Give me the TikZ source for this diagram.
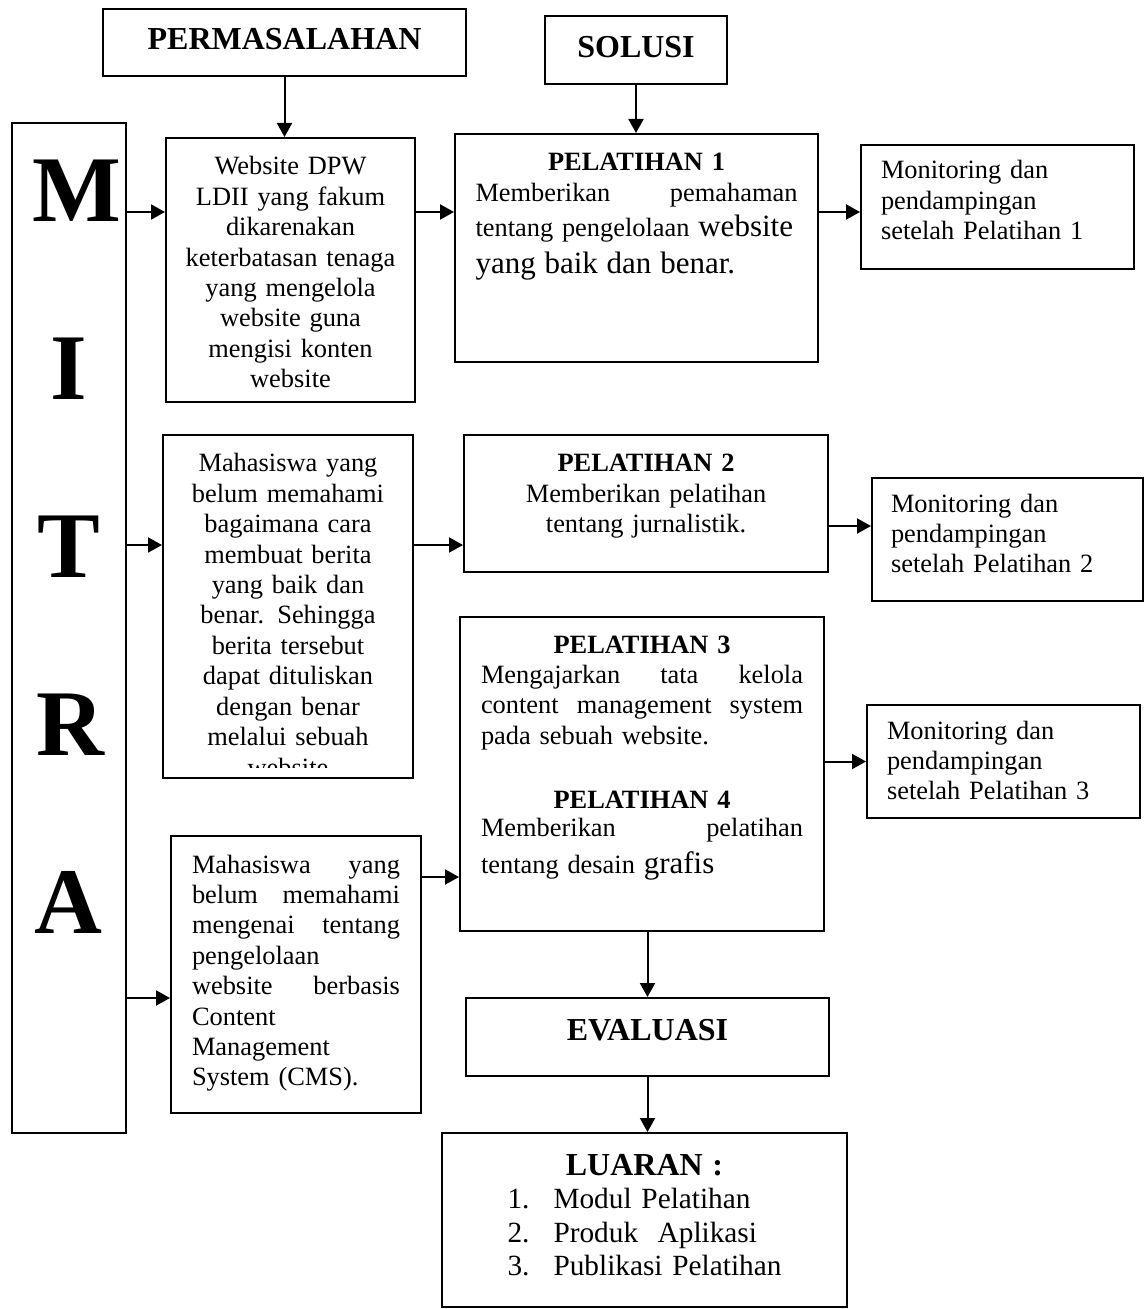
\documentclass[tikz,border=0pt]{standalone}
\usepackage{fontspec}
\setmainfont{Liberation Serif}
\usetikzlibrary{arrows.meta,shapes}

\newcommand{\pelhead}[1]{\makebox[\linewidth]{\bfseries #1}}
\newcommand{\besar}{\fontsize{15.5}{17}\selectfont}

\begin{document}
\begin{tikzpicture}[x=0.5pt, y=-0.5pt, line width=1pt]
      % ukuran gambar dibuat tetap supaya sama dengan aslinya
      \useasboundingbox (0,0) rectangle (1144,1309);
      \tikzstyle{kotak} = [rectangle, draw, inner sep=0pt, font=\fontsize{13.2}{15.2}\selectfont]
      \tikzstyle{judul} = [kotak, font=\fontsize{16}{19}\selectfont\bfseries, text height=10.6pt]
      \tikzstyle{isi} = [kotak, text width=161pt, align=left, text height=9pt]
      \tikzstyle{monitor} = [kotak, minimum width=136.5pt, text width=116.5pt, align=left, text height=9pt]
      \tikzstyle{huruf} = [font=\fontsize{47}{50}\selectfont\bfseries]
      \tikzstyle{line} = [draw, -{Triangle[length=7pt,width=7.5pt]}]
      % baris panah
      \coordinate (baris1) at (0,212);
      \coordinate (baris2) at (0,545);
      \coordinate (baris3) at (0,998);
      \coordinate (baris4) at (0,877);
      \coordinate (baris5) at (0,526);
      \coordinate (potong) at (0,767);
        % kolom mitra
        \node [kotak, minimum width=57pt, minimum height=505pt] (mitra) at (69,628) {};
        \foreach \h/\x [count=\i] in {M/77,I/69,T/69,R/70,A/68}
          \node [huruf] (huruf\i) at (\x, 191+177.75*\i-177.75) {\h};
        % judul atas
        \node [judul, minimum width=181.5pt, minimum height=33.5pt, text depth=3.1pt] (masalah) at (284.5,42.5) {PERMASALAHAN};
        \node [judul, minimum width=91pt, minimum height=34pt, text depth=2.6pt] (solusi) at (636,50) {SOLUSI};
        % permasalahan
        \node [kotak, minimum width=124.5pt, minimum height=132pt, text width=115pt, align=center, text height=9pt, text depth=104pt] (masalah1) at (290.5,270)
          {Website DPW\\ LDII yang fakum\\ dikarenakan\\ keterbatasan tenaga\\ yang mengelola\\ website guna\\ mengisi konten\\ website};
        \node [kotak, minimum width=125pt, minimum height=171.5pt] (masalah2) at (288,606.5) {};
        \begin{scope}
          % baris terakhir terpotong oleh kotak
          \clip (masalah2.north west) rectangle (masalah2.east |- potong);
          \node [kotak, draw=none, text width=120pt, align=center, anchor=base] (teks2) at (288,472)
            {Mahasiswa yang\\ belum memahami\\ bagaimana cara\\ membuat berita\\ yang baik dan\\ benar. Sehingga\\ berita tersebut\\ dapat dituliskan\\ dengan benar\\ melalui sebuah\\ website};
        \end{scope}
        \node [kotak, minimum width=125pt, minimum height=138.5pt, text width=104pt, align=left, text height=9pt, text depth=110.5pt] (masalah3) at (296,974.5)
          {Mahasiswa\hfill yang\\ belum\hfill memahami\\ mengenai\hfill tentang\\ pengelolaan\\ website\hfill berbasis\\ Content\\ Management\\ System (CMS).};
        % solusi
        \node [isi, minimum width=181.5pt, minimum height=114pt, text depth=86pt] (pel1) at (636.5,248)
          {\pelhead{PELATIHAN 1}\\ Memberikan\hfill pemahaman\\[2.3pt] tentang pengelolaan {\besar website}\\[3.3pt] {\besar yang baik dan benar.}};
        \node [kotak, minimum width=182pt, minimum height=68.5pt, text width=161pt, align=center, text height=9pt, text depth=40.5pt] (pel2) at (646,503.5)
          {\textbf{PELATIHAN 2}\\ Memberikan pelatihan\\ tentang jurnalistik.};
        \node [isi, minimum width=182pt, minimum height=157pt, text depth=130pt] (pel34) at (642,774)
          {\pelhead{PELATIHAN 3}\\ Mengajarkan\hfill tata\hfill kelola\\ content\hfill management\hfill system\\ pada sebuah website.\\[16.8pt] \pelhead{PELATIHAN 4}\\[-1pt] Memberikan\hfill pelatihan\\[3.3pt] tentang desain {\besar grafis}};
        % monitoring
        \node [monitor, minimum height=62pt, text depth=37pt] (monitor1) at (997.5,207) {Monitoring dan\\ pendampingan\\ setelah Pelatihan 1};
        \node [monitor, minimum width=135.5pt, minimum height=61.5pt, text depth=36.5pt] (monitor2) at (1007.5,539.5) {Monitoring dan\\ pendampingan\\ setelah Pelatihan 2};
        \node [monitor, minimum height=56.5pt, text depth=31.5pt] (monitor3) at (1003.5,761.5) {Monitoring dan\\ pendampingan\\ setelah Pelatihan 3};
        % evaluasi dan luaran
        \node [judul, minimum width=181.5pt, minimum height=39pt, text depth=7.6pt] (evaluasi) at (647.5,1037) {EVALUASI};
        \node [kotak, minimum width=202.5pt, minimum height=87pt, text width=190pt, align=center, text height=10.6pt, text depth=55.6pt, font=\fontsize{14.65}{16.75}\selectfont] (luaran) at (644.5,1220)
          {{\fontsize{16}{19}\selectfont\bfseries LUARAN :}\\
           \begin{tabular}[t]{@{}p{23pt}@{}l@{}}
             1. & Modul Pelatihan\\ 2. & Produk\ \ Aplikasi\\ 3. & Publikasi Pelatihan
           \end{tabular}};
        % panah
        \path [line] (masalah.south) -- (masalah.south |- masalah1.north);
        \path [line] (solusi.south) -- (solusi.south |- pel1.north);
        \path [line] (mitra.east |- baris1) -- (masalah1.west |- baris1);
        \path [line] (masalah1.east |- baris1) -- (pel1.west |- baris1);
        \path [line] (pel1.east |- baris1) -- (monitor1.west |- baris1);
        \path [line] (mitra.east |- baris2) -- (masalah2.west |- baris2);
        \path [line] (masalah2.east |- baris2) -- (pel2.west |- baris2);
        \path [line] (pel2.east |- baris5) -- (monitor2.west |- baris5);
        \path [line] (mitra.east |- baris3) -- (masalah3.west |- baris3);
        \path [line] (masalah3.east |- baris4) -- (pel34.west |- baris4);
        \path [line] (pel34.east |- monitor3.west) -- (monitor3.west);
        \path [line] (evaluasi.north |- pel34.south) -- (evaluasi.north);
        \path [line] (evaluasi.south) -- (evaluasi.south |- luaran.north);
\end{tikzpicture}
\end{document}
